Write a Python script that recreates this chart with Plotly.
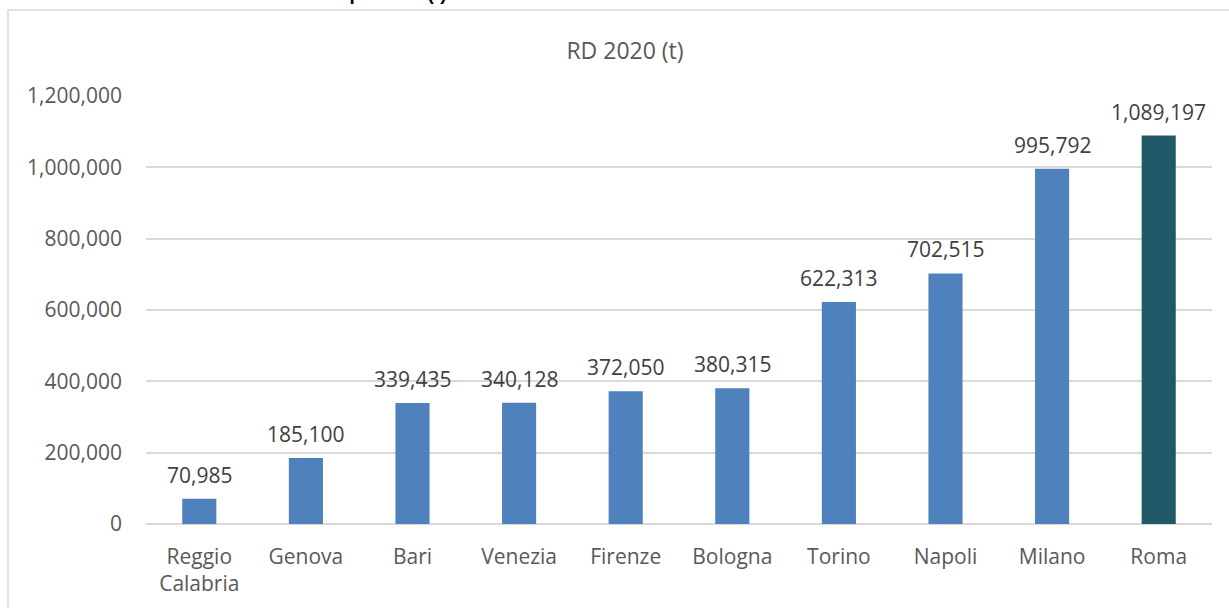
import plotly.graph_objects as go

cities = ["Reggio<br>Calabria", "Genova", "Bari", "Venezia", "Firenze", "Bologna",
          "Torino", "Napoli", "Milano", "Roma"]
rd_2020 = [70985, 185100, 339435, 340128, 372050, 380315, 622313, 702515, 995792, 1089197]
y_ticks = [0, 200000, 400000, 600000, 800000, 1000000, 1200000]

BLUE = "#4F81BD"
TEAL = "#215968"
colors = [BLUE] * (len(cities) - 1) + [TEAL]
FONT = "Open Sans"

W, H = 1229, 608
L, R, T, B = 146, 17, 96, 84
pw, ph = W - L - R, H - T - B

fig = go.Figure(go.Bar(
    x=cities, y=rd_2020, marker=dict(color=colors, line=dict(width=0)),
    hoverinfo="x+y",
))

for c, v in zip(cities, rd_2020):
    fig.add_annotation(x=c, y=v, text=f"{v:,}", showarrow=False, yanchor="bottom",
                       yshift=8, font=dict(family=FONT, size=21, color="#404040"))

# page title above the chart, cut off by the top edge as in the reference
fig.add_annotation(xref="paper", yref="paper", x=(0 - L) / pw, y=1, xanchor="left",
                   yanchor="bottom", yshift=T - 6, showarrow=False,
                   text="<b>Raccolta differenziata nelle città metropolitane (t) – anno 2020</b>",
                   font=dict(family="Liberation Sans", size=19, color="#000000"))

# chart frame (page px: left 8, top 10)
fig.add_shape(type="rect", xref="paper", yref="paper",
              x0=(8 - L) / pw, x1=(W + 20 - L) / pw,
              y0=(H - B - (H + 20)) / ph, y1=(H - B - 10) / ph,
              line=dict(color="#D9D9D9", width=1.5), fillcolor="rgba(0,0,0,0)", layer="below")

fig.update_layout(
    width=W, height=H,
    margin=dict(l=L, r=R, t=T, b=B, autoexpand=False),
    paper_bgcolor="white", plot_bgcolor="white",
    bargap=0.68,
    showlegend=False,
    title=dict(text="RD 2020 (t)", x=625 / W, xref="container", xanchor="center",
               y=1 - 51 / H, yref="container", yanchor="middle",
               font=dict(family=FONT, size=23, color="#595959")),
    font=dict(family=FONT, size=21, color="#595959"),
    xaxis=dict(showgrid=False, showline=False, ticks="", ticklabelstandoff=18,
               automargin=False,
               tickfont=dict(family=FONT, size=21, color="#595959")),
    yaxis=dict(range=[0, 1200000], tickvals=y_ticks, ticktext=[f"{t:,}" for t in y_ticks],
               showgrid=True, gridcolor="#D9D9D9", gridwidth=1.5,
               zeroline=True, zerolinecolor="#D9D9D9", zerolinewidth=2,
               showline=False, ticks="", ticklabelstandoff=23, automargin=False,
               tickfont=dict(family=FONT, size=21, color="#595959")),
)

fig.write_html("out.html", config={"displayModeBar": False},
               post_script="document.body.style.margin='0';document.body.style.overflow='hidden';")
